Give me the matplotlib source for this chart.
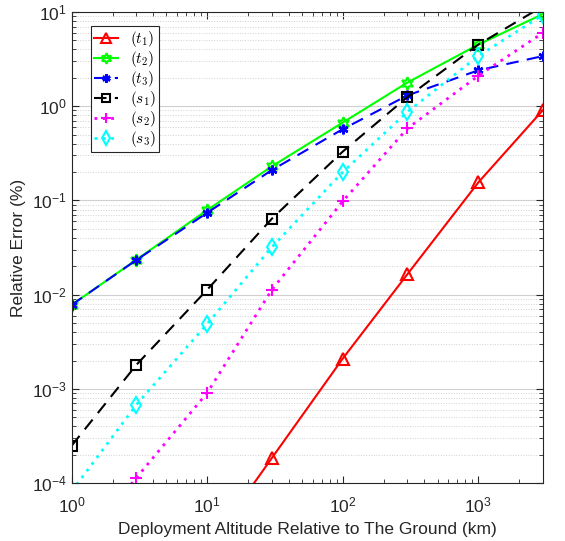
import matplotlib
matplotlib.use("Agg")
import matplotlib.pyplot as plt
from matplotlib.ticker import LogLocator, NullFormatter

plt.rcParams['font.family'] = ['Liberation Sans', 'DejaVu Sans']
plt.rcParams['mathtext.fontset'] = 'cm'

# deployment altitude (km)
alt = [1, 3, 10, 30, 100, 300, 1000, 3000]

# relative error (%)
t1 = [2.0e-7, 1.9e-6, 2.0e-5, 1.85e-4, 2.1e-3, 1.65e-2, 0.155, 0.91]
t2 = [0.0078, 0.0235, 0.079, 0.23, 0.67, 1.78, 4.5, 9.5]
t3 = [0.0078, 0.0233, 0.074, 0.21, 0.57, 1.3, 2.4, 3.4]
s1 = [0.00025, 0.0018, 0.0113, 0.064, 0.33, 1.25, 4.5, 11.5]
s2 = [1.7e-5, 0.000114, 0.00091, 0.0113, 0.098, 0.58, 2.1, 6.0]
s3 = [8.2e-5, 0.00068, 0.0049, 0.032, 0.2, 0.87, 3.4, 9.3]

fig = plt.figure(figsize=(5.65, 5.41), dpi=100)
ax = fig.add_axes([0.127, 0.107, 0.834, 0.871])

ax.plot(alt, t1, color='red', ls='-', lw=1.5, marker='^', ms=8, mfc='none', mew=1.5, label='$(t_1)$')
ax.plot(alt, t2, color='#00ff00', ls='-', lw=1.5, marker=(6, 1, 0), ms=9, mfc='none', mew=1.5, label='$(t_2)$')
ax.plot(alt, t3, color='blue', ls=(0, (6, 4)), lw=1.5, marker=(6, 2, 0), ms=7, mew=1.8, label='$(t_3)$')
ax.plot(alt, s1, color='black', ls=(0, (6, 4)), lw=1.5, marker='s', ms=6.5, mfc='none', mew=1.5, label='$(s_1)$')
ax.plot(alt, s2, color='magenta', ls=(0, (1, 2)), lw=2, marker='+', ms=8, mew=1.5, label='$(s_2)$')
ax.plot(alt, s3, color='cyan', ls=(0, (1, 2)), lw=2, marker='d', ms=8, mfc='none', mew=1.5, label='$(s_3)$')

ax.set_xscale('log')
ax.set_yscale('log')
ax.set_xlim(1, 3000)
ax.set_ylim(1e-4, 10)

ax.yaxis.set_minor_locator(LogLocator(base=10, subs=range(2, 10), numticks=20))
ax.yaxis.set_minor_formatter(NullFormatter())
ax.grid(True, which='major', axis='y', color='#d0d0d0', lw=0.8)
ax.grid(True, which='minor', axis='y', color='#d0d0d0', lw=0.7, ls=':')

ax.tick_params(which='both', direction='in', top=True, right=True, labelsize=12.5, colors='#262626')
ax.tick_params(which='major', length=5)
ax.tick_params(which='minor', length=3)
ax.tick_params(axis='x', pad=9)
for sp in ax.spines.values():
    sp.set_color('#262626')

ax.set_xlabel('Deployment Altitude Relative to The Ground (km)', fontsize=12.5, color='#262626', labelpad=5)
ax.set_ylabel('Relative Error (%)', fontsize=12.5, color='#262626', labelpad=4)

leg = ax.legend(loc='upper left', bbox_to_anchor=(0.04, 0.97), borderaxespad=0, fontsize=11,
                fancybox=False, framealpha=1, edgecolor='#262626', markerscale=0.85,
                handlelength=1.6, handletextpad=0.8, borderpad=0.2, labelspacing=0.0)
leg.get_frame().set_linewidth(0.8)

plt.savefig('out.png', dpi=100)
